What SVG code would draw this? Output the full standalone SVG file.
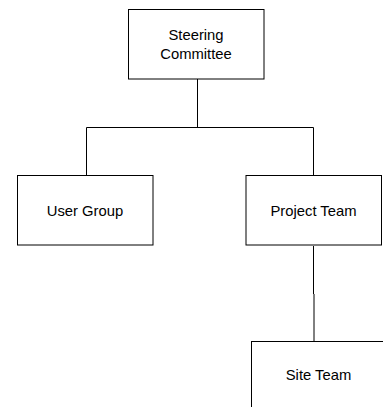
<svg xmlns="http://www.w3.org/2000/svg" width="383" height="407" viewBox="0 0 383 407">
<style>
.box{fill:#fff;stroke:#000;stroke-width:1}
.lbl{font-family:"Liberation Sans",Arial,sans-serif;font-size:14.8px;fill:#000;text-anchor:middle}
.conn{fill:none;stroke:#000;stroke-width:1}
</style>
<rect width="383" height="407" fill="#fff"/>
<g id="connectors">
<path class="conn" d="M197.5,79 V127.5 M86.5,176 V127.5 H313.5 V176 M313.5,246 V294 M314,294 V341"/>
</g>
<g id="steering">
<rect class="box" x="128.5" y="9.5" width="135.5" height="69.5"/>
<text class="lbl" x="196" y="40">Steering</text>
<text class="lbl" x="196" y="58.5">Committee</text>
</g>
<g id="usergroup">
<rect class="box" x="17.5" y="175.5" width="135.5" height="69.5"/>
<text class="lbl" x="85" y="215.5">User Group</text>
</g>
<g id="projectteam">
<rect class="box" x="246" y="175.5" width="135.5" height="69.5"/>
<text class="lbl" x="313.5" y="215.5">Project Team</text>
</g>
<g id="siteteam">
<rect class="box" x="251.5" y="341.5" width="135.5" height="69.5"/>
<text class="lbl" x="318.5" y="380">Site Team</text>
</g>
</svg>
